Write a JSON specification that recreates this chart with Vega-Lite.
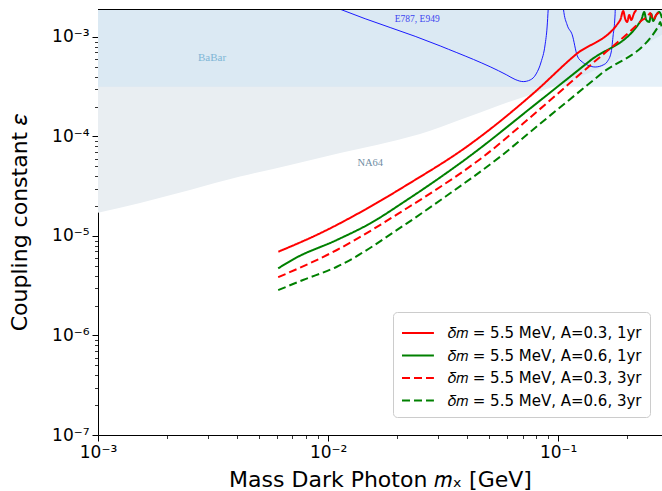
{
  "$schema": "https://vega.github.io/schema/vega-lite/v6.json",
  "width": 564,
  "height": 426,
  "autosize": "none",
  "padding": {"left": 98, "top": 9, "right": 0, "bottom": 56},
  "background": "white",
  "config": {
    "view": {"stroke": null},
    "axis": {
      "domainColor": "black", "tickColor": "black", "labelColor": "black", "titleColor": "black",
      "labelFont": "DejaVu Sans", "titleFont": "DejaVu Sans", "labelFontSize": 17, "titleFontSize": 22,
      "titleFontWeight": "normal", "grid": false, "domainWidth": 1, "labelOverlap": false, "labelFlush": false
    },
    "legend": {
      "labelFont": "DejaVu Sans", "labelFontSize": 15, "labelColor": "black",
      "fillColor": "rgba(255,255,255,0.8)", "strokeColor": "#cccccc", "cornerRadius": 4,
      "padding": 8, "rowPadding": 1.5, "labelOffset": 21, "symbolType": "M-1,0H1.66",
      "symbolSize": 576, "symbolStrokeWidth": 2, "labelLimit": 400
    }
  },
  "datasets": {
    "band": [{"x0": 0.001, "x1": 0.2826, "y0": 0.000316, "y1": 0.00191}],
    "na64": [
      {"x": 0.001, "y": 1.71e-5},
      {"x": 0.001524, "y": 2.15e-5},
      {"x": 0.00251, "y": 2.90e-5},
      {"x": 0.00414, "y": 3.95e-5},
      {"x": 0.00684, "y": 5.18e-5},
      {"x": 0.01128, "y": 6.83e-5},
      {"x": 0.01862, "y": 8.87e-5},
      {"x": 0.0251, "y": 1.06e-4},
      {"x": 0.0375, "y": 1.47e-4},
      {"x": 0.056, "y": 2.07e-4},
      {"x": 0.0951, "y": 3.16e-4},
      {"x": 0.1524, "y": 4.88e-4},
      {"x": 0.2826, "y": 1.05e-3}
    ],
    "e787": [
      {"piece": "a", "x": 0.00923, "y": 2.3e-3},
      {"piece": "a", "x": 0.01128, "y": 1.90e-3},
      {"piece": "a", "x": 0.0307, "y": 8.13e-4},
      {"piece": "a", "x": 0.0598, "y": 4.15e-4},
      {"piece": "a", "x": 0.065, "y": 3.74e-4},
      {"piece": "a", "x": 0.0705, "y": 3.56e-4},
      {"piece": "a", "x": 0.0756, "y": 3.70e-4},
      {"piece": "a", "x": 0.0802, "y": 4.25e-4},
      {"piece": "a", "x": 0.0843, "y": 5.61e-4},
      {"piece": "a", "x": 0.0877, "y": 8.32e-4},
      {"piece": "a", "x": 0.0895, "y": 1.26e-3},
      {"piece": "a", "x": 0.0905, "y": 1.91e-3},
      {"piece": "a", "x": 0.091, "y": 2.36e-3},
      {"piece": "b", "x": 0.1052, "y": 2.36e-3},
      {"piece": "b", "x": 0.1054, "y": 1.91e-3},
      {"piece": "b", "x": 0.1094, "y": 1.32e-3},
      {"piece": "b", "x": 0.1151, "y": 1.05e-3},
      {"piece": "b", "x": 0.1211, "y": 6.44e-4},
      {"piece": "b", "x": 0.1272, "y": 5.61e-4},
      {"piece": "b", "x": 0.1336, "y": 5.24e-4},
      {"piece": "b", "x": 0.1448, "y": 4.99e-4},
      {"piece": "b", "x": 0.157, "y": 5.24e-4},
      {"piece": "b", "x": 0.1634, "y": 5.65e-4},
      {"piece": "b", "x": 0.17, "y": 7.06e-4},
      {"piece": "b", "x": 0.1734, "y": 1.05e-3},
      {"piece": "b", "x": 0.1761, "y": 1.48e-3},
      {"piece": "b", "x": 0.177, "y": 1.91e-3},
      {"piece": "b", "x": 0.1773, "y": 2.36e-3}
    ],
    "sens": [
      {"s": "𝛿𝑚 = 5.5 MeV, A=0.3, 1yr", "x": 0.00608, "y": 6.95e-6},
      {"s": "𝛿𝑚 = 5.5 MeV, A=0.3, 1yr", "x": 0.00923, "y": 1.064e-5},
      {"s": "𝛿𝑚 = 5.5 MeV, A=0.3, 1yr", "x": 0.01525, "y": 1.97e-5},
      {"s": "𝛿𝑚 = 5.5 MeV, A=0.3, 1yr", "x": 0.022, "y": 3.26e-5},
      {"s": "𝛿𝑚 = 5.5 MeV, A=0.3, 1yr", "x": 0.0401, "y": 7.91e-5},
      {"s": "𝛿𝑚 = 5.5 MeV, A=0.3, 1yr", "x": 0.0781, "y": 2.72e-4},
      {"s": "𝛿𝑚 = 5.5 MeV, A=0.3, 1yr", "x": 0.1186, "y": 6.59e-4},
      {"s": "𝛿𝑚 = 5.5 MeV, A=0.3, 1yr", "x": 0.1861, "y": 1.482e-3},
      {"s": "𝛿𝑚 = 5.5 MeV, A=0.3, 1yr", "x": 0.1917, "y": 1.825e-3},
      {"s": "𝛿𝑚 = 5.5 MeV, A=0.3, 1yr", "x": 0.1956, "y": 1.517e-3},
      {"s": "𝛿𝑚 = 5.5 MeV, A=0.3, 1yr", "x": 0.1995, "y": 1.416e-3},
      {"s": "𝛿𝑚 = 5.5 MeV, A=0.3, 1yr", "x": 0.2036, "y": 1.664e-3},
      {"s": "𝛿𝑚 = 5.5 MeV, A=0.3, 1yr", "x": 0.2077, "y": 1.482e-3},
      {"s": "𝛿𝑚 = 5.5 MeV, A=0.3, 1yr", "x": 0.214, "y": 1.743e-3},
      {"s": "𝛿𝑚 = 5.5 MeV, A=0.3, 1yr", "x": 0.2183, "y": 1.868e-3},
      {"s": "𝛿𝑚 = 5.5 MeV, A=0.6, 1yr", "x": 0.00607, "y": 4.73e-6},
      {"s": "𝛿𝑚 = 5.5 MeV, A=0.6, 1yr", "x": 0.00719, "y": 5.97e-6},
      {"s": "𝛿𝑚 = 5.5 MeV, A=0.6, 1yr", "x": 0.01092, "y": 9.12e-6},
      {"s": "𝛿𝑚 = 5.5 MeV, A=0.6, 1yr", "x": 0.01525, "y": 1.34e-5},
      {"s": "𝛿𝑚 = 5.5 MeV, A=0.6, 1yr", "x": 0.022, "y": 2.30e-5},
      {"s": "𝛿𝑚 = 5.5 MeV, A=0.6, 1yr", "x": 0.0401, "y": 6.04e-5},
      {"s": "𝛿𝑚 = 5.5 MeV, A=0.6, 1yr", "x": 0.0807, "y": 2.16e-4},
      {"s": "𝛿𝑚 = 5.5 MeV, A=0.6, 1yr", "x": 0.1377, "y": 5.78e-4},
      {"s": "𝛿𝑚 = 5.5 MeV, A=0.6, 1yr", "x": 0.2296, "y": 1.482e-3},
      {"s": "𝛿𝑚 = 5.5 MeV, A=0.6, 1yr", "x": 0.2366, "y": 1.784e-3},
      {"s": "𝛿𝑚 = 5.5 MeV, A=0.6, 1yr", "x": 0.2413, "y": 1.482e-3},
      {"s": "𝛿𝑚 = 5.5 MeV, A=0.6, 1yr", "x": 0.2487, "y": 1.416e-3},
      {"s": "𝛿𝑚 = 5.5 MeV, A=0.6, 1yr", "x": 0.2537, "y": 1.703e-3},
      {"s": "𝛿𝑚 = 5.5 MeV, A=0.6, 1yr", "x": 0.2588, "y": 1.448e-3},
      {"s": "𝛿𝑚 = 5.5 MeV, A=0.6, 1yr", "x": 0.2667, "y": 1.664e-3},
      {"s": "𝛿𝑚 = 5.5 MeV, A=0.6, 1yr", "x": 0.2749, "y": 1.784e-3},
      {"s": "𝛿𝑚 = 5.5 MeV, A=0.6, 1yr", "x": 0.2826, "y": 1.553e-3},
      {"s": "𝛿𝑚 = 5.5 MeV, A=0.3, 3yr", "x": 0.00607, "y": 3.85e-6},
      {"s": "𝛿𝑚 = 5.5 MeV, A=0.3, 3yr", "x": 0.01092, "y": 7.23e-6},
      {"s": "𝛿𝑚 = 5.5 MeV, A=0.3, 3yr", "x": 0.022, "y": 1.90e-5},
      {"s": "𝛿𝑚 = 5.5 MeV, A=0.3, 3yr", "x": 0.0264, "y": 2.48e-5},
      {"s": "𝛿𝑚 = 5.5 MeV, A=0.3, 3yr", "x": 0.0473, "y": 6.27e-5},
      {"s": "𝛿𝑚 = 5.5 MeV, A=0.3, 3yr", "x": 0.0807, "y": 1.77e-4},
      {"s": "𝛿𝑚 = 5.5 MeV, A=0.3, 3yr", "x": 0.1377, "y": 5.18e-4},
      {"s": "𝛿𝑚 = 5.5 MeV, A=0.3, 3yr", "x": 0.22, "y": 1.32e-3},
      {"s": "𝛿𝑚 = 5.5 MeV, A=0.3, 3yr", "x": 0.2318, "y": 1.482e-3},
      {"s": "𝛿𝑚 = 5.5 MeV, A=0.3, 3yr", "x": 0.2438, "y": 1.589e-3},
      {"s": "𝛿𝑚 = 5.5 MeV, A=0.3, 3yr", "x": 0.2512, "y": 1.743e-3},
      {"s": "𝛿𝑚 = 5.5 MeV, A=0.3, 3yr", "x": 0.2588, "y": 1.482e-3},
      {"s": "𝛿𝑚 = 5.5 MeV, A=0.3, 3yr", "x": 0.2667, "y": 1.664e-3},
      {"s": "𝛿𝑚 = 5.5 MeV, A=0.3, 3yr", "x": 0.2777, "y": 1.784e-3},
      {"s": "𝛿𝑚 = 5.5 MeV, A=0.6, 3yr", "x": 0.00607, "y": 2.86e-6},
      {"s": "𝛿𝑚 = 5.5 MeV, A=0.6, 3yr", "x": 0.00778, "y": 3.61e-6},
      {"s": "𝛿𝑚 = 5.5 MeV, A=0.6, 3yr", "x": 0.01092, "y": 4.91e-6},
      {"s": "𝛿𝑚 = 5.5 MeV, A=0.6, 3yr", "x": 0.022, "y": 1.34e-5},
      {"s": "𝛿𝑚 = 5.5 MeV, A=0.6, 3yr", "x": 0.0323, "y": 2.48e-5},
      {"s": "𝛿𝑚 = 5.5 MeV, A=0.6, 3yr", "x": 0.056, "y": 6.27e-5},
      {"s": "𝛿𝑚 = 5.5 MeV, A=0.6, 3yr", "x": 0.0807, "y": 1.26e-4},
      {"s": "𝛿𝑚 = 5.5 MeV, A=0.6, 3yr", "x": 0.1524, "y": 4.20e-4},
      {"s": "𝛿𝑚 = 5.5 MeV, A=0.6, 3yr", "x": 0.272, "y": 1.27e-3},
      {"s": "𝛿𝑚 = 5.5 MeV, A=0.6, 3yr", "x": 0.2777, "y": 1.416e-3},
      {"s": "𝛿𝑚 = 5.5 MeV, A=0.6, 3yr", "x": 0.2826, "y": 1.176e-3}
    ],
    "lab_babar": [{"x": 0.00313, "y": 6.15e-4, "t": "BaBar"}],
    "lab_na64": [{"x": 0.01525, "y": 5.42e-5, "t": "NA64"}],
    "lab_e787": [{"x": 0.0244, "y": 1.52e-3, "t": "E787, E949"}],
    "top": [{"y": 0.00191}]
  },
  "layer": [
    {
      "data": {"name": "na64"},
      "mark": {"type": "area", "color": "#e9eef2", "opacity": 1, "interpolate": "monotone"},
      "encoding": {
        "x": {"field": "x", "type": "quantitative",
          "scale": {"type": "log", "domain": [0.001, 0.2826], "nice": false, "zero": false},
          "axis": {
            "title": "Mass Dark Photon 𝑚ₓ [GeV]",
            "values": [0.001,0.002,0.003,0.004,0.005,0.006,0.007,0.008,0.009,0.01,0.02,0.03,0.04,0.05,0.06,0.07,0.08,0.09,0.1,0.2],
            "labelExpr": "abs(log(datum.value)/LN10 - round(log(datum.value)/LN10)) < 0.001 ? '10' + (round(log(datum.value)/LN10) < 0 ? '⁻' : '') + ['⁰','¹','²','³','⁴','⁵','⁶','⁷','⁸','⁹'][abs(round(log(datum.value)/LN10))] : ''",
            "tickSize": {"condition": {"test": "abs(log(datum.value)/LN10 - round(log(datum.value)/LN10)) < 0.001", "value": 6}, "value": 3.5},
            "tickWidth": {"condition": {"test": "abs(log(datum.value)/LN10 - round(log(datum.value)/LN10)) < 0.001", "value": 1}, "value": 0.8},
            "labelPadding": 3,
            "titlePadding": 9
          }},
        "y": {"field": "y", "type": "quantitative",
          "scale": {"type": "log", "domain": [1e-7, 0.00191], "nice": false, "zero": false},
          "axis": {
            "title": "Coupling constant 𝜀",
            "values": [1e-7,2e-7,3e-7,4e-7,5e-7,6e-7,7e-7,8e-7,9e-7,1e-6,2e-6,3e-6,4e-6,5e-6,6e-6,7e-6,8e-6,9e-6,1e-5,2e-5,3e-5,4e-5,5e-5,6e-5,7e-5,8e-5,9e-5,1e-4,2e-4,3e-4,4e-4,5e-4,6e-4,7e-4,8e-4,9e-4,1e-3],
            "labelExpr": "abs(log(datum.value)/LN10 - round(log(datum.value)/LN10)) < 0.001 ? '10' + (round(log(datum.value)/LN10) < 0 ? '⁻' : '') + ['⁰','¹','²','³','⁴','⁵','⁶','⁷','⁸','⁹'][abs(round(log(datum.value)/LN10))] : ''",
            "tickSize": {"condition": {"test": "abs(log(datum.value)/LN10 - round(log(datum.value)/LN10)) < 0.001", "value": 6}, "value": 3.5},
            "tickWidth": {"condition": {"test": "abs(log(datum.value)/LN10 - round(log(datum.value)/LN10)) < 0.001", "value": 1}, "value": 0.8},
            "labelPadding": 3,
            "titlePadding": 20
          }},
        "y2": {"datum": 0.00191}
      }
    },
    {
      "data": {"name": "band"},
      "mark": {"type": "rect", "color": "#cde3f3", "opacity": 0.5},
      "encoding": {
        "x": {"field": "x0", "type": "quantitative"},
        "x2": {"field": "x1"},
        "y": {"field": "y0", "type": "quantitative"},
        "y2": {"field": "y1"}
      }
    },
    {
      "data": {"name": "e787"},
      "mark": {"type": "line", "color": "#1a1aff", "strokeWidth": 1, "clip": true, "interpolate": "monotone"},
      "encoding": {
        "x": {"field": "x", "type": "quantitative"},
        "y": {"field": "y", "type": "quantitative"},
        "detail": {"field": "piece"}
      }
    },
    {
      "data": {"name": "sens"},
      "mark": {"type": "line", "strokeWidth": 2, "clip": true, "interpolate": "monotone"},
      "encoding": {
        "x": {"field": "x", "type": "quantitative"},
        "y": {"field": "y", "type": "quantitative"},
        "color": {"field": "s", "type": "nominal",
          "scale": {"domain": ["𝛿𝑚 = 5.5 MeV, A=0.3, 1yr", "𝛿𝑚 = 5.5 MeV, A=0.6, 1yr", "𝛿𝑚 = 5.5 MeV, A=0.3, 3yr", "𝛿𝑚 = 5.5 MeV, A=0.6, 3yr"],
                    "range": ["#ff0000", "#008000", "#ff0000", "#008000"]},
          "legend": {"title": null, "orient": "none", "legendX": 295, "legendY": 303}},
        "strokeDash": {"field": "s", "type": "nominal",
          "scale": {"domain": ["𝛿𝑚 = 5.5 MeV, A=0.3, 1yr", "𝛿𝑚 = 5.5 MeV, A=0.6, 1yr", "𝛿𝑚 = 5.5 MeV, A=0.3, 3yr", "𝛿𝑚 = 5.5 MeV, A=0.6, 3yr"],
                    "range": [[1, 0], [1, 0], [8, 4], [8, 4]]},
          "legend": {"title": null, "orient": "none", "legendX": 295, "legendY": 303}}
      }
    },
    {
      "data": {"name": "lab_babar"},
      "mark": {"type": "text", "font": "Liberation Serif", "fontSize": 11, "color": "#7fb6d6"},
      "encoding": {"x": {"field": "x", "type": "quantitative"}, "y": {"field": "y", "type": "quantitative"}, "text": {"field": "t"}}
    },
    {
      "data": {"name": "lab_na64"},
      "mark": {"type": "text", "font": "Liberation Serif", "fontSize": 10.5, "color": "#6f8da3"},
      "encoding": {"x": {"field": "x", "type": "quantitative"}, "y": {"field": "y", "type": "quantitative"}, "text": {"field": "t"}}
    },
    {
      "data": {"name": "lab_e787"},
      "mark": {"type": "text", "font": "Liberation Serif", "fontSize": 9.5, "color": "#3c44f0"},
      "encoding": {"x": {"field": "x", "type": "quantitative"}, "y": {"field": "y", "type": "quantitative"}, "text": {"field": "t"}}
    },
    {
      "data": {"name": "top"},
      "mark": {"type": "rule", "color": "black", "strokeWidth": 1, "yOffset": 0.5},
      "encoding": {"y": {"field": "y", "type": "quantitative"}}
    }
  ]
}
